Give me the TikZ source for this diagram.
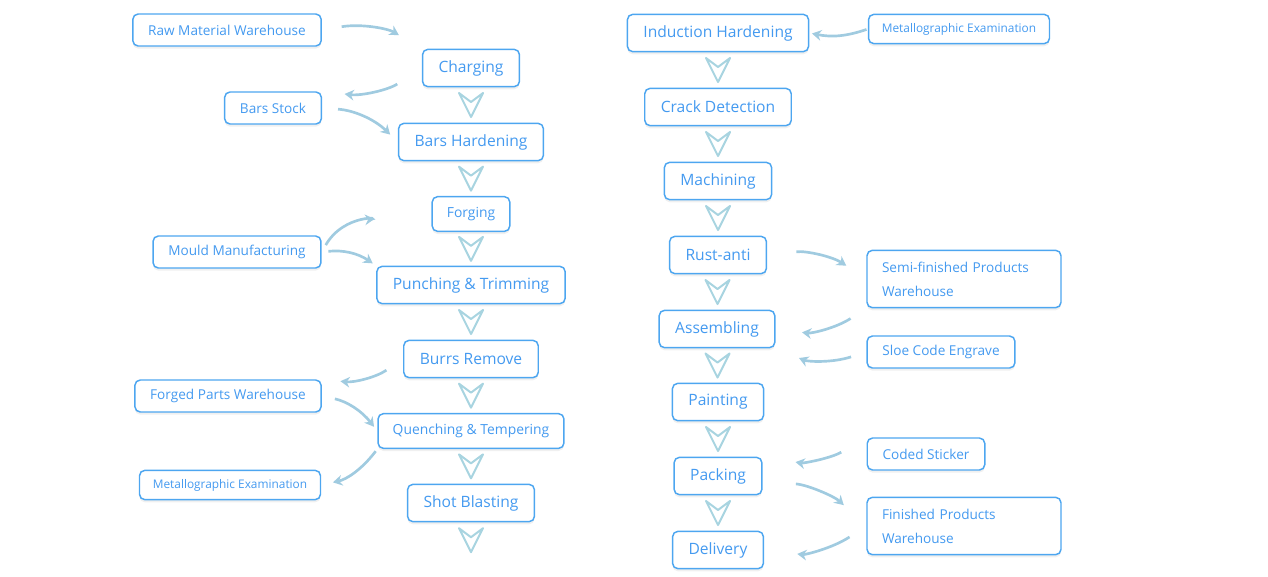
\documentclass[tikz,border=0pt]{standalone}
\usepackage{fontspec}
\setmainfont{Open Sans}
\usetikzlibrary{arrows.meta,shadows}
\definecolor{boxblue}{RGB}{77,166,240}
\definecolor{txtblue}{RGB}{68,154,240}
\definecolor{flowblue}{RGB}{160,203,224}
\definecolor{veeblue}{RGB}{168,212,224}
\tikzstyle{proc}=[draw=boxblue, fill=white, text=txtblue, rounded corners=4pt,
        line width=1.1pt, font=\fontsize{11.7}{13}\selectfont,
        minimum height=28pt, inner xsep=12pt,
        drop shadow={shadow xshift=0pt, shadow yshift=-2pt, opacity=0.12}]
\tikzstyle{procsmall}=[proc, font=\fontsize{10.4}{12}\selectfont, minimum height=26pt,
        inner xsep=11pt]
\tikzstyle{side}=[proc, font=\fontsize{10.2}{12}\selectfont, minimum height=24pt,
        inner xsep=11.5pt]
\tikzstyle{sidesmall}=[side, font=\fontsize{8.9}{10}\selectfont, minimum height=22pt,
        inner xsep=10pt]
\tikzstyle{twoline}=[side, font=\fontsize{10.2}{18}\selectfont, align=left,
        text width=123pt, inner xsep=11.25pt, minimum height=43pt]
\tikzstyle{flow}=[draw=flowblue, line width=2pt, -{Stealth[length=7pt,width=8pt]}]
\tikzstyle{veeline}=[draw=veeblue, line width=1.5pt, line join=round]
\tikzset{vee/.pic={\draw[veeline] (-12,-12) -- (0,12) -- (12,-12) -- (0,-3) -- cycle;}}

\begin{document}
\begin{tikzpicture}[x=0.75pt, y=-0.75pt]
    \useasboundingbox (0,0) rectangle (1268,576);

    % left column
    \node[proc] (charge) at (471,68) {Charging};
    \node[proc] (barhard) at (471,142) {Bars Hardening};
    \node[procsmall] (forge) at (471,214) {Forging};
    \node[proc] (punch) at (471,285) {Punching \& Trimming};
    \node[proc] (burrs) at (471,359) {Burrs Remove};
    \node[procsmall] (quench) at (471,431) {Quenching \& Tempering};
    \node[proc] (shot) at (471,503) {Shot Blasting};
    \coordinate (shotend) at (471,558);

    \node[side] (raw) at (227,30) {Raw Material Warehouse};
    \node[side] (stock) at (273,108) {Bars Stock};
    \node[side] (mould) at (237,252) {Mould Manufacturing};
    \node[side] (forged) at (228,396) {Forged Parts Warehouse};
    \node[sidesmall] (metl) at (230,485) {Metallographic Examination};

    % right column
    \node[proc] (induct) at (718,33) {Induction Hardening};
    \node[proc] (crack) at (718,107) {Crack Detection};
    \node[proc] (machine) at (718,181) {Machining};
    \node[proc] (rust) at (718,255) {Rust-anti};
    \node[proc] (assem) at (717,329) {Assembling};
    \node[proc] (paint) at (718,402) {Painting};
    \node[proc] (pack) at (718,476) {Packing};
    \node[proc] (deliv) at (718,550) {Delivery};

    \node[sidesmall] (metr) at (959,29) {Metallographic Examination};
    \node[twoline] (semi) at (964,279) {Semi-finished Products\\Warehouse};
    \node[side] (sloe) at (941,352) {Sloe Code Engrave};
    \node[side] (coded) at (926,454) {Coded Sticker};
    \node[twoline] (fin) at (964,526) {Finished Products\\Warehouse};

    % chevrons
    \path (charge) -- pic[pos=0.5]{vee} (barhard);
    \path (barhard) -- pic[pos=0.5]{vee} (forge);
    \path (forge) -- pic[pos=0.5]{vee} (punch);
    \path (punch) -- pic[pos=0.5]{vee} (burrs);
    \path (burrs) -- pic[pos=0.5]{vee} (quench);
    \path (quench) -- pic[pos=0.5]{vee} (shot);
    \path (shot) -- pic[pos=0.5]{vee} (shotend);
    \path (induct) -- pic[pos=0.5]{vee} (crack);
    \path (crack) -- pic[pos=0.5]{vee} (machine);
    \path (machine) -- pic[pos=0.5]{vee} (rust);
    \path (rust) -- pic[pos=0.5]{vee} (assem);
    \path (assem) -- pic[pos=0.5]{vee} (paint);
    \path (paint) -- pic[pos=0.5]{vee} (pack);
    \path (pack) -- pic[pos=0.5]{vee} (deliv);

    % side flows
    \draw[flow, shorten <=15pt, shorten >=20pt] (raw.east) to[bend left=20] (charge.north west);
    \draw[flow, shorten <=22pt, shorten >=17pt] (charge.west) to[bend left=20] (stock.north east);
    \draw[flow, shorten <=12pt, shorten >=8pt] (stock.east) to[bend left=20] (barhard.west);
    \draw[flow, shorten <=6pt, shorten >=43pt] (mould.east) to[out=60, in=185] (forge.west);
    \draw[flow, shorten <=5pt, shorten >=3pt] (mould.east) to[bend left=20] (punch.north west);
    \draw[flow, shorten <=15pt, shorten >=14pt] (burrs.west) to[bend left=20] (forged.north east);
    \draw[flow, shorten <=10pt, shorten >=4pt] (forged.east) to[bend left=20] (quench.west);
    \draw[flow, shorten <=2pt, shorten >=9pt] (quench.south west) to[bend left=20] (metl.east);
    \draw[flow, shorten <=1pt, shorten >=2pt] (metr.west) to[bend left=15] (induct.east);
    \draw[flow, shorten <=22pt, shorten >=18pt] (rust.east) to[bend left=20] (semi.west);
    \draw[flow, shorten <=14pt, shorten >=20pt] (semi.south west) to[bend left=20] (assem.east);
    \draw[flow, shorten <=12pt, shorten >=19pt] (sloe.west) to[bend left=20] (assem.south east);
    \draw[flow, shorten <=22pt, shorten >=25pt] (coded.north west) to[bend left=20] (pack.north east);
    \draw[flow, shorten <=25pt, shorten >=23pt] (pack.-8) to[bend left=20] (fin.west);
    \draw[flow, shorten <=15pt, shorten >=25pt] (fin.west) to[bend left=20] (deliv.east);
\end{tikzpicture}
\end{document}
